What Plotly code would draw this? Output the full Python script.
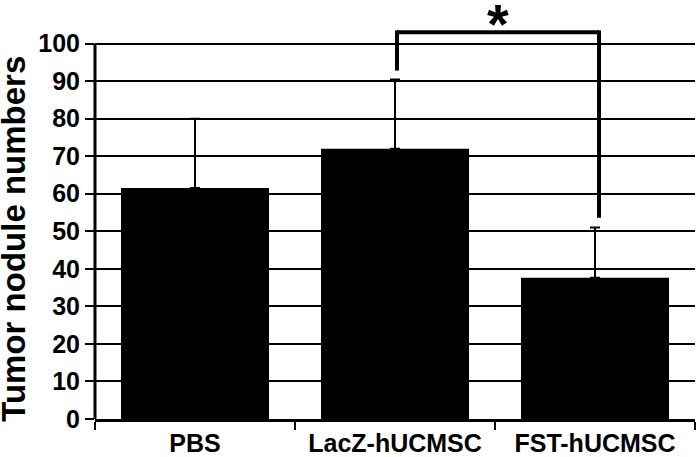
import plotly.graph_objects as go

groups = ["PBS", "LacZ-hUCMSC", "FST-hUCMSC"]
means = [61.5, 72.0, 37.6]
err_up = [18.5, 18.4, 13.4]
y_ticks = list(range(0, 101, 10))

# significance bracket between LacZ and FST
sig_top = 103
sig_left_end = 92.8
sig_right_end = 53.6
sig_label = "*"

fig = go.Figure(
    go.Bar(
        x=groups, y=means, width=0.74,
        marker=dict(color="black", line=dict(width=0)),
        error_y=dict(type="data", array=err_up, symmetric=False,
                     color="black", thickness=2, width=5),
    )
)

fig.update_layout(
    width=700, height=457,
    margin=dict(l=95, r=5, t=6, b=38),
    paper_bgcolor="white", plot_bgcolor="white",
    font=dict(family="Liberation Sans, Arial, sans-serif", color="black", size=25, weight="bold"),
    showlegend=False,
)
fig.update_xaxes(
    automargin=False,
    showline=True, linecolor="black", linewidth=2.5,
    ticks="outside", tickson="boundaries", ticklen=8, tickwidth=2, tickcolor="black",
    tickfont=dict(size=25), showgrid=False,
)
fig.update_yaxes(
    automargin=False,
    range=[0, 110], tickvals=y_ticks, showline=False, zeroline=False,
    showgrid=True, gridcolor="black", gridwidth=1.5,
    ticks="outside", ticklen=9, tickwidth=2, tickcolor="black",
    tickfont=dict(size=25),
)

# y axis line only up to 100
fig.add_shape(type="line", xref="paper", yref="y", x0=0, x1=0, y0=0, y1=y_ticks[-1],
              line=dict(color="black", width=3))

# bracket
lw = 4
fig.add_shape(type="line", xref="x", yref="y", x0=1.01, x1=2.02, y0=sig_top, y1=sig_top,
              line=dict(color="black", width=lw))
fig.add_shape(type="line", xref="x", yref="y", x0=1.01, x1=1.01, y0=sig_top + 0.5, y1=sig_left_end,
              line=dict(color="black", width=lw))
fig.add_shape(type="line", xref="x", yref="y", x0=2.02, x1=2.02, y0=sig_top + 0.5, y1=sig_right_end,
              line=dict(color="black", width=lw))
fig.add_annotation(x=1.515, y=sig_top + 1, xref="x", yref="y", text=sig_label, showarrow=False,
                   yanchor="bottom", yshift=-28, font=dict(size=56, weight="bold"))

# y axis title
fig.add_annotation(x=0, y=48, xref="paper", yref="y", xshift=-81, xanchor="center",
                   text="Tumor nodule numbers", textangle=-90, showarrow=False,
                   font=dict(size=33, weight="bold"))

fig.write_html("out.html", config={"displayModeBar": False},
               post_script="document.body.style.margin = '0';")
